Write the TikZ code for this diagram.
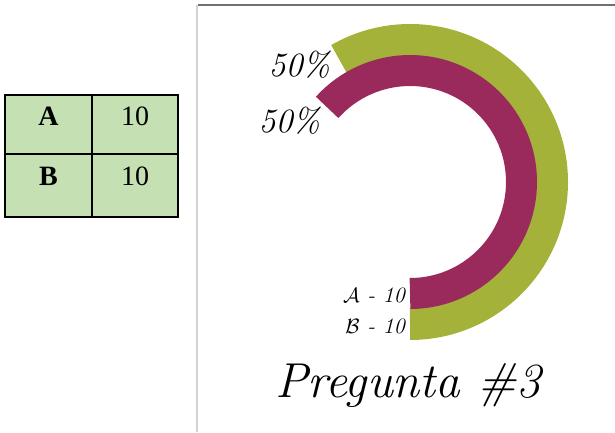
\documentclass[tikz,border=0pt]{standalone}
\usepackage{fontspec}
\usepackage{amsmath,amssymb}
\usepackage{xcolor}
\usepackage{tikz}
\usetikzlibrary{positioning,calc}
\newfontfamily\tabfont{Liberation Serif}
\definecolor{cellgreen}{RGB}{197,224,179}
\definecolor{ringgreen}{RGB}{164,178,58}
\definecolor{ringwine}{RGB}{155,42,92}
\definecolor{framegray}{RGB}{112,112,112}

\tikzset{
  tabtext/.style={font=\tabfont\fontsize{28}{30}\selectfont, inner sep=0pt, anchor=base},
  pcttext/.style={font=\itshape\fontsize{34}{36}\selectfont, inner sep=0pt},
  keytext/.style={font=\itshape\fontsize{22}{24}\selectfont, inner sep=0pt, anchor=east}
}

\begin{document}
\begin{tikzpicture}[x=1pt,y=1pt]
\useasboundingbox (0,0) rectangle (615,432);

% frame of the chart
\draw[framegray, line width=2pt] (198,427) -- (615,427);
\draw[gray!35, line width=1.5pt] (197,427) -- (197,0);

% table
\fill[cellgreen] (5,215) rectangle (178,337);
\draw[line width=1.3pt] (5,215) rectangle (178,337);
\draw[line width=1.3pt] (92,215) -- (92,337);
\draw[line width=1.3pt] (5,278) -- (178,278);
\node[tabtext] (keyA) at (48.5,307) {\bfseries A};
\node[tabtext] (valA) at (135,307) {10};
\node[tabtext] (keyB) at (48.5,247) {\bfseries B};
\node[tabtext] (valB) at (135,247) {10};

% rings
\coordinate (c) at (410,250);
\draw[ringgreen, line width=32pt] ($(c)+(-90:142)$) arc[start angle=-90, end angle=120, radius=142];
\draw[ringwine, line width=31pt] ($(c)+(-90:111.5)$) arc[start angle=-90, end angle=138, radius=111.5];

% labels
\node[pcttext, anchor=east] (pctB) at (330,367) {50\%};
\node[pcttext, anchor=east] (pctA) at (320,311) {50\%};
\node[keytext] (labA) at (405,137) {$\mathcal{A}$ - 10};
\node[keytext] (labB) at (405,106) {$\mathcal{B}$ - 10};

\node[font=\itshape\fontsize{49}{52}\selectfont, inner sep=0pt, anchor=base] (title) at (408,35) {Pregunta \#3};
\end{tikzpicture}
\end{document}
